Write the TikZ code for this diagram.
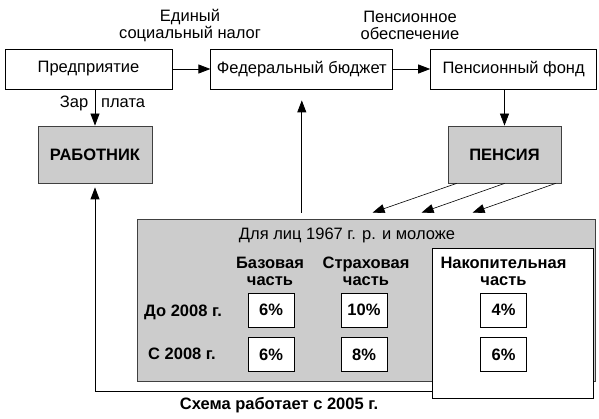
\documentclass[tikz,border=0pt]{standalone}
\usepackage{fontspec}
\setmainfont{Liberation Sans}
\usetikzlibrary{arrows.meta,positioning,calc}
\tikzset{
	box/.style={draw,line width=0.8pt,fill=white,align=center,minimum height=40pt,font=\fontsize{16.5}{17}\selectfont},
	grbox/.style={draw=black!75,line width=0.8pt,fill=black!20,minimum width=114pt,minimum height=57pt,font=\bfseries\fontsize{16.5}{17}\selectfont},
	pct/.style={draw,line width=0.8pt,fill=white,minimum width=46pt,minimum height=34pt,font=\bfseries\fontsize{16.5}{17}\selectfont},
	txt/.style={align=center,font=\fontsize{16.5}{17}\selectfont},
	btxt/.style={align=center,font=\bfseries\fontsize{16.5}{17}\selectfont},
	arr/.style={-{Triangle[length=12pt,width=9pt]},line width=0.8pt}
}

\begin{document}
\begin{tikzpicture}[x=1pt,y=-1pt,node distance=38pt]
	\useasboundingbox (0,0) rectangle (599,419);
	\node[box,minimum width=167pt] (pred) at (88.5,69) {Предприятие};
	\node[box,minimum width=182pt,right=of pred] (budg) {Федеральный бюджет};
	\node[box,minimum width=166pt,right=37pt of budg] (fond) {Пенсионный фонд};
	\node[txt] (esn) at (190,25.5) {Единый\\социальный налог};
	\node[txt] (obes) at (410,25.5) {Пенсионное\\обеспечение};
	\node[grbox] (rab) at (95,154.5) {РАБОТНИК};
	\node[grbox,minimum width=113pt] (pens) at (504.5,154.5) {ПЕНСИЯ};
	% block for 1967+
	\node[draw=black!75,line width=0.8pt,fill=black!20,minimum width=458pt,minimum height=162pt] (blk) at (366,300) {};
	\node[draw,line width=0.8pt,fill=white,minimum width=161pt,minimum height=150pt] (nak) at (512.5,323) {};
	\node[txt] (ttl) at (347,235) {Для лиц 1967 г. р. и моложе};
	\node[btxt] (hb) at (270,271.5) {Базовая\\часть};
	\node[btxt] (hs) at (366,271.5) {Страховая\\часть};
	\node[btxt] (hn) at (503.5,271.5) {Накопительная\\часть};
	\node[btxt] (r1) at (183,312) {До 2008 г.};
	\node[btxt] (r2) at (182,354) {С 2008 г.};
	\node[pct] (b1) at (271,310) {6\%};
	\node[pct] (b2) at (271,354.5) {6\%};
	\node[pct] (s1) at (364,310) {10\%};
	\node[pct] (s2) at (364,354.5) {8\%};
	\node[pct] (n1) at (503.5,310) {4\%};
	\node[pct] (n2) at (503.5,354.5) {6\%};
	\node[btxt] (cap) at (279,405) {Схема работает с 2005 г.};
	% connectors
	\draw[arr] (pred) -- (budg);
	\draw[arr] (budg) -- (fond);
	\draw[arr] (rab.north |- pred.south) -- node[txt,pos=0.38,xshift=7.5pt]{Зар\hspace{13pt}плата} (rab.north);
	\draw[arr] (pens.north |- fond.south) -- (pens.north);
	\foreach \s/\e in {9/236,57/285,108/336}
		\draw[arr,line width=0.6pt] ($(pens.south west)+(\s,0)$) -- ($(blk.north west)+(\e,-6)$);
	\coordinate (up) at ($(blk.north)+(0,-6)$);
	\draw[arr] (budg.south |- up) -- ($(budg.south)+(0,11)$);
	\coordinate (lp) at ($(nak.south west)+(0,-7)$);
	\draw[arr] (lp) -- (rab.south |- lp) -- ($(rab.south)+(0,4)$);
\end{tikzpicture}
\end{document}
